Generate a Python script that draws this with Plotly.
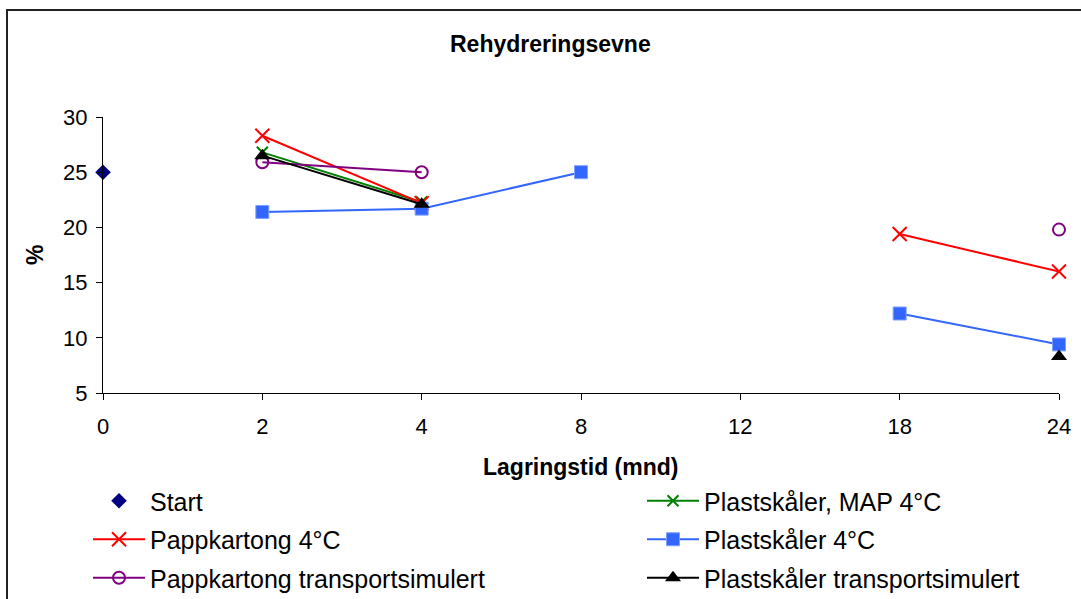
import plotly.graph_objects as go

# ---- data ----
categories = ["0", "2", "4", "8", "12", "18", "24"]
start = [25.0, None, None, None, None, None, None]
plast_map = [None, 26.8, 22.3, None, None, None, None]
papp_4 = [None, 28.3, 22.2, None, None, 19.4, 16.0]
plast_4 = [None, 21.4, 21.7, 25.0, None, 12.2, 9.4]
papp_transp = [None, 25.9, 25.0, None, None, None, 19.8]
plast_transp = [None, 26.5, 22.1, None, None, None, 8.3]

title_text = "Rehydreringsevne"
x_title = "Lagringstid (mnd)"
y_title = "%"

FONT = "Liberation Sans, Arial, sans-serif"
W, H = 1081, 599
L, R, T, B = 103, 22, 117, 206
PW, PH = W - L - R, H - T - B


def px(x):
    return (x - L) / PW


def py(y):
    return (H - B - y) / PH


fig = go.Figure()

fig.add_trace(go.Scatter(x=categories, y=start, name="Start", mode="markers",
                         marker=dict(symbol="diamond", size=12, color="#000080"),
                         legend="legend", legendgroup="a", cliponaxis=False))
fig.add_trace(go.Scatter(x=categories, y=plast_map, name="Plastskåler, MAP 4°C", mode="lines+markers",
                         line=dict(color="#008000", width=2),
                         marker=dict(symbol="x-thin", size=11, line=dict(color="#008000", width=2)),
                         legend="legend2", legendgroup="b", cliponaxis=False))
fig.add_trace(go.Scatter(x=categories, y=papp_4, name="Pappkartong 4°C", mode="lines+markers",
                         line=dict(color="#FF0000", width=2),
                         marker=dict(symbol="x-thin", size=14, line=dict(color="#FF0000", width=2)),
                         legend="legend", legendgroup="c", cliponaxis=False))
fig.add_trace(go.Scatter(x=categories, y=plast_4, name="Plastskåler 4°C", mode="lines+markers",
                         line=dict(color="#3366FF", width=2),
                         marker=dict(symbol="square", size=13, color="#3366FF",
                                     line=dict(color="#7FA0FF", width=1)),
                         legend="legend2", legendgroup="d", cliponaxis=False))
fig.add_trace(go.Scatter(x=categories, y=papp_transp, name="Pappkartong transportsimulert", mode="lines+markers",
                         line=dict(color="#800080", width=2),
                         marker=dict(symbol="circle-open", size=12, color="#800080", line=dict(width=2)),
                         legend="legend", legendgroup="e", cliponaxis=False))
fig.add_trace(go.Scatter(x=categories, y=plast_transp, name="Plastskåler transportsimulert", mode="lines+markers",
                         line=dict(color="#000000", width=2),
                         marker=dict(symbol="triangle-up", size=14, color="#000000"),
                         legend="legend2", legendgroup="f", cliponaxis=False))

legend_common = dict(xanchor="left", yanchor="top", bgcolor="rgba(0,0,0,0)",
                     font=dict(family=FONT, size=25, color="#000"),
                     itemwidth=52, tracegroupgap=3, orientation="v")

fig.update_layout(
    width=W, height=H,
    margin=dict(l=L, r=R, t=T, b=B, autoexpand=False),
    paper_bgcolor="white", plot_bgcolor="white",
    showlegend=True,
    legend=dict(x=px(88), y=py(478), **legend_common),
    legend2=dict(x=px(642), y=py(478), **legend_common),
    xaxis=dict(type="category", range=[0, 6], showgrid=False, zeroline=False,
               showline=True, linecolor="#000", linewidth=1,
               ticks="outside", ticklen=6, tickcolor="#000",
               tickfont=dict(family=FONT, size=22, color="#000"),
               ticklabelstandoff=8),
    yaxis=dict(range=[5, 30], dtick=5, showgrid=False, zeroline=False,
               showline=True, linecolor="#000", linewidth=1,
               ticks="outside", ticklen=6, tickcolor="#000",
               tickfont=dict(family=FONT, size=22, color="#000"),
               ticklabelstandoff=4),
    annotations=[
        dict(text="<b>%s</b>" % title_text, x=px(550), y=py(44), xref="paper", yref="paper",
             showarrow=False, font=dict(family=FONT, size=23, color="#000"),
             xanchor="center", yanchor="middle"),
        dict(text="<b>%s</b>" % x_title, x=px(580), y=py(467), xref="paper", yref="paper",
             showarrow=False, font=dict(family=FONT, size=23, color="#000"),
             xanchor="center", yanchor="middle"),
        dict(text="<b>%s</b>" % y_title, x=px(35), y=py(255), xref="paper", yref="paper",
             showarrow=False, textangle=-90, font=dict(family=FONT, size=23, color="#000"),
             xanchor="center", yanchor="middle"),
    ],
    shapes=[
        dict(type="rect", xref="paper", yref="paper", x0=px(7), x1=px(1100), y0=py(620), y1=py(10),
             line=dict(color="#222", width=2), fillcolor="rgba(0,0,0,0)", layer="below"),
    ],
)

fig.write_html("out.html")
